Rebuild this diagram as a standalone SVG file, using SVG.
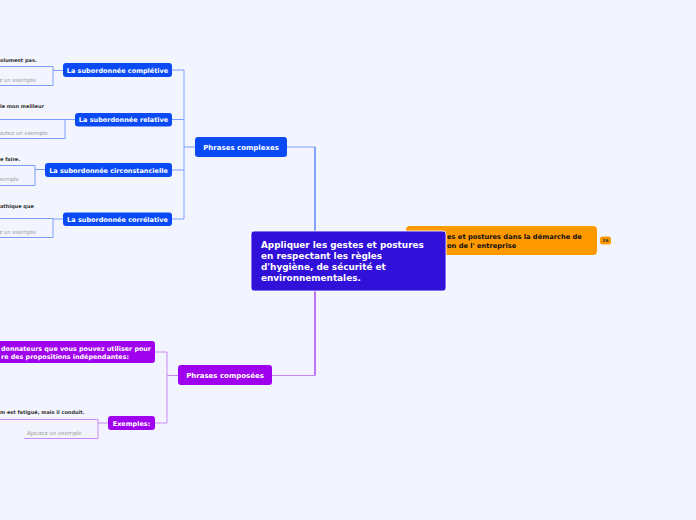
<svg xmlns="http://www.w3.org/2000/svg" width="696" height="520" viewBox="0 0 696 520">
<style>
.bg{fill:#f2f5fe}
.blue{fill:#0a4af5}
.purple{fill:#9f00ee}
.t{font-family:"DejaVu Sans",Verdana,sans-serif;font-weight:bold}
.tw{fill:#ffffff;font-size:7px}
.ts{fill:#ffffff;font-size:6.5px}
.leaf{fill:#333333;font-size:5px}
.ph{fill:#9a9a9a;font-size:5.5px;font-weight:normal}
.cb{fill:none;stroke:#7f9dff;stroke-width:1}
.cp{fill:none;stroke:#c98af5;stroke-width:1}
</style>
<rect class="bg" x="0" y="0" width="696" height="520"/>
<g id="connectors">
  <path class="cb" d="M287 147 H315"/>
  <path d="M315 147 V231" fill="none" stroke="#3a6cff" stroke-width="1.2"/>
  <path class="cb" d="M195 147 H184 M184 70 V219 M184 70 H172 M184 119.5 H172 M184 170 H172 M184 219 H172"/>
  <path class="cb" d="M53 70.5 H63 M65 119.5 H75 M35 169.5 H45 M53 219 H63"/>
  <path class="cp" d="M272 375.5 H315"/>
  <path d="M315 291 V375.5" fill="none" stroke="#a020f0" stroke-width="1.2"/>
  <path class="cp" d="M178 375.5 H167 M167 352 V423 M167 352 H155 M167 423 H155 M98 423 H108"/>
</g>
<g id="leaf-completive">
  <text class="t leaf" x="0" y="61.5">olument pas.</text>
  <path class="cb" d="M0 66.5 H53 V85.5 H0"/>
  <text class="t ph" x="36" y="81.5" text-anchor="end">z un exemple</text>
</g>
<g id="leaf-relative">
  <text class="t leaf" x="0" y="107.5">le mon meilleur</text>
  <path class="cb" d="M0 119.5 H65 V138.5 H0"/>
  <text class="t ph" x="48" y="134.5" text-anchor="end">outez un exemple</text>
</g>
<g id="leaf-circ">
  <text class="t leaf" x="0" y="160.5">e faire.</text>
  <path class="cb" d="M0 165.5 H35 V185.5 H0"/>
  <text class="t ph" x="19" y="181" text-anchor="end">xemple</text>
</g>
<g id="leaf-correl">
  <text class="t leaf" x="0" y="207.5">athique que</text>
  <path class="cb" d="M0 218.5 H53 V237.5 H0"/>
  <text class="t ph" x="36" y="233.5" text-anchor="end">z un exemple</text>
</g>
<g id="leaf-exemples">
  <text class="t leaf" x="0" y="414">m est fatigué, mais il conduit.</text>
  <path class="cp" d="M0 419.5 H98 V438.5 H24"/>
  <text class="t ph" x="27" y="434.5">Ajoutez un exemple</text>
</g>
<g id="node-completive">
  <rect class="blue" x="63" y="63" width="109" height="14" rx="3"/>
  <text class="t ts" x="117.5" y="72.5" text-anchor="middle">La subordonnée complétive</text>
</g>
<g id="node-relative">
  <rect class="blue" x="75" y="113" width="97" height="13.5" rx="3"/>
  <text class="t ts" x="123.5" y="122.3" text-anchor="middle">La subordonnée relative</text>
</g>
<g id="node-circ">
  <rect class="blue" x="45" y="163" width="127" height="14" rx="3"/>
  <text class="t ts" x="108.5" y="172.5" text-anchor="middle">La subordonnée circonstancielle</text>
</g>
<g id="node-correl">
  <rect class="blue" x="63" y="212.5" width="109" height="13.5" rx="3"/>
  <text class="t ts" x="117.5" y="221.8" text-anchor="middle">La subordonnée corrélative</text>
</g>
<g id="node-complexes">
  <rect class="blue" x="195" y="137" width="92" height="20" rx="3"/>
  <text class="t tw" x="241" y="149.5" text-anchor="middle">Phrases complexes</text>
</g>
<g id="node-composees">
  <rect class="purple" x="178" y="365" width="94" height="20" rx="3"/>
  <text class="t tw" x="225" y="378" text-anchor="middle">Phrases composées</text>
</g>
<g id="node-coord">
  <rect class="purple" x="-10" y="341" width="165" height="22" rx="3"/>
  <text class="t ts" x="1" y="350.5" textLength="150" lengthAdjust="spacingAndGlyphs">donnateurs que vous pouvez utiliser pour</text>
  <text class="t ts" x="1" y="358.5" textLength="128" lengthAdjust="spacingAndGlyphs">re des propositions indépendantes:</text>
</g>
<g id="node-exemples">
  <rect class="purple" x="108" y="416" width="47" height="14" rx="3"/>
  <text class="t ts" x="131.5" y="425.5" text-anchor="middle">Exemples:</text>
</g>
<g id="node-orange">
  <rect x="406" y="226" width="191" height="29" rx="4" fill="#ff9900"/>
  <text class="t" x="447" y="239" font-size="6.7" fill="#111">es et postures dans la démarche de</text>
  <text class="t" x="447" y="248" font-size="6.7" fill="#111">on de l' entreprise</text>
  <rect x="600" y="236.5" width="11" height="8" rx="2.5" fill="#ff9900"/>
  <text class="t" x="605.5" y="242.3" font-size="4.5" fill="#333" text-anchor="middle" font-weight="normal">26</text>
</g>
<g id="node-central">
  <rect x="251" y="231" width="195" height="60" rx="3" fill="#3110d9" stroke="#ffffff" stroke-width="0.8"/>
  <text class="t" x="261" y="248" font-size="8.9" fill="#fff">Appliquer les gestes et postures</text>
  <text class="t" x="261" y="259" font-size="8.9" fill="#fff">en respectant les règles</text>
  <text class="t" x="261" y="270" font-size="8.9" fill="#fff">d'hygiène, de sécurité et</text>
  <text class="t" x="261" y="281" font-size="8.9" fill="#fff">environnementales.</text>
</g>
</svg>
